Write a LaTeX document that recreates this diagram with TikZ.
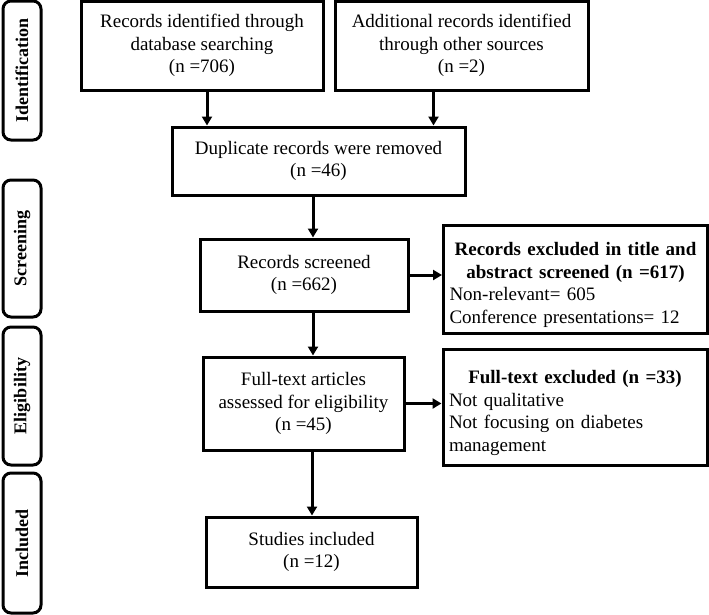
\documentclass[tikz,border=0pt]{standalone}
\usepackage{fontspec}
\setmainfont{Liberation Serif}
\usetikzlibrary{arrows.meta}

\tikzset{
  box/.style={draw, line width=3pt, align=center, inner sep=3pt,
    font=\fontsize{19}{22.5}\selectfont},
  notebox/.style={draw, line width=3pt, inner xsep=6pt, inner ysep=3pt,
    text width=252pt, font=\fontsize{19}{22.5}\selectfont},
  sidebox/.style={draw, line width=3pt, rounded corners=8pt, rotate=90,
    minimum height=38pt, inner sep=2pt, font=\fontsize{18}{20}\selectfont\bfseries},
  arr/.style={-{Triangle[length=9pt,width=10pt]}, line width=3pt},
}

\begin{document}
\begin{tikzpicture}[x=1pt,y=-1pt]
\useasboundingbox (0,0) rectangle (709,614);

% draw stage labels
\node[sidebox, minimum width=139pt] (lid) at (22,70.5) {Identification};
\node[sidebox, minimum width=137pt] (lscr) at (22,248.5) {Screening};
\node[sidebox, minimum width=138pt] (lelig) at (22,396) {Eligibility};
\node[sidebox, minimum width=140pt] (lincl) at (22,543) {Included};

% draw nodes of the flow
\node[box, minimum width=242pt, minimum height=89pt] (ident1) at (202,45.5)
  {Records identified through\\ database searching\\ (n =706)};
\node[box, minimum width=253pt, minimum height=89pt] (ident2) at (461.5,45.5)
  {Additional records identified\\ through other sources\\ (n =2)};
\node[box, minimum width=293pt, minimum height=68pt] (dup) at (318.5,161)
  {Duplicate records were removed\\ (n =46)};
\node[box, minimum width=208pt, minimum height=72pt] (screen) at (304,275)
  {Records screened\\ (n =662)};
\node[box, minimum width=201pt, minimum height=93pt] (full) at (303.5,403.5)
  {Full-text articles\\ assessed for eligibility\\ (n =45)};
\node[box, minimum width=211pt, minimum height=70pt] (incl) at (311.5,552)
  {Studies included\\ (n =12)};

% draw nodes of the exclusions
\node[notebox, minimum height=108pt] (excl1) at (575.5,279) {%
  {\centering\bfseries\rule{0pt}{25pt}Records excluded in title and\\ abstract screened (n =617)\par}
  Non-relevant= 605\\
  Conference presentations= 12};
\node[notebox, minimum height=116pt] (excl2) at (575,407) {%
  {\centering\bfseries\rule{0pt}{25pt}Full-text excluded (n =33)\par}
  Not qualitative\\
  Not focusing on diabetes\\
  management};

% draw arrows
\coordinate (a1) at ([xshift=5pt]ident1.south);
\coordinate (a2) at ([xshift=-28pt]ident2.south);
\coordinate (a3) at ([xshift=-5.5pt]dup.south);
\coordinate (a4) at ([xshift=9pt]screen.south);
\coordinate (a5) at ([xshift=8.5pt]full.south);
\draw[arr] (a1) -- (a1 |- dup.north);
\draw[arr] (a2) -- (a2 |- dup.north);
\draw[arr] (a3) -- (a3 |- screen.north);
\draw[arr] (a4) -- (a4 |- full.north);
\draw[arr] (a5) -- (a5 |- incl.north);
\draw[arr] (screen.east) -- (screen.east -| excl1.west);
\draw[arr] (full.east) -- (full.east -| excl2.west);
\end{tikzpicture}
\end{document}
